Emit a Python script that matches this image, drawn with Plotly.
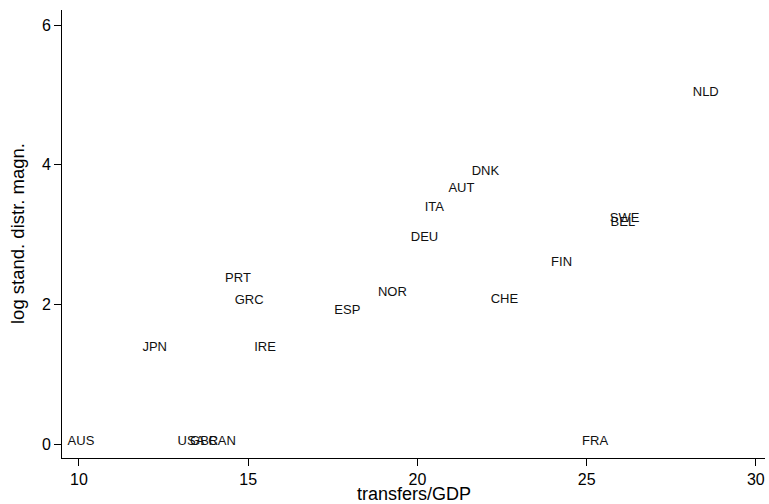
import plotly.graph_objects as go

countries = ["AUS", "USA", "GBR", "CAN", "FRA", "JPN", "IRE", "PRT", "GRC", "ESP",
             "NOR", "DEU", "ITA", "AUT", "DNK", "CHE", "FIN", "SWE", "BEL", "NLD"]
transfers_gdp = [10.06, 13.31, 13.70, 14.23, 25.25, 12.24, 15.50, 14.70, 15.03, 17.93,
                 19.26, 20.21, 20.50, 21.30, 22.01, 22.57, 24.26, 26.12, 26.07, 28.52]
log_distr = [0.03, 0.03, 0.03, 0.03, 0.03, 1.38, 1.38, 2.37, 2.05, 1.91,
             2.16, 2.96, 3.38, 3.66, 3.90, 2.07, 2.60, 3.22, 3.17, 5.03]

x_ticks = [10, 15, 20, 25, 30]
y_ticks = [0, 2, 4, 6]
x_title = "transfers/GDP"
y_title = "log stand. distr. magn."

FONT = "Liberation Sans, Arial, sans-serif"

fig = go.Figure(go.Scatter(
    x=transfers_gdp, y=log_distr, mode="text", text=countries,
    textposition="middle center",
    textfont=dict(family=FONT, size=13, color="#111111"),
    hoverinfo="skip", showlegend=False,
))

axis_common = dict(
    showgrid=False, zeroline=False, showline=True, linecolor="black", linewidth=1,
    ticks="outside", ticklen=7, tickcolor="black", tickwidth=1, automargin=False,
    tickfont=dict(family=FONT, size=16, color="black"),
)

fig.update_layout(
    width=769, height=504,
    margin=dict(l=62, r=4, t=10, b=46),
    paper_bgcolor="white", plot_bgcolor="white",
    xaxis=dict(range=[9.50, 30.27], tickvals=x_ticks, **axis_common),
    yaxis=dict(range=[-0.20, 6.215], tickvals=y_ticks, **axis_common),
    annotations=[
        dict(text=x_title, xref="paper", yref="paper", x=0.5, y=0, yshift=-36,
             xanchor="center", yanchor="middle", showarrow=False,
             font=dict(family=FONT, size=18, color="black")),
        dict(text=y_title, xref="paper", yref="paper", x=0, y=0.5, xshift=-45,
             xanchor="center", yanchor="middle", textangle=-90, showarrow=False,
             font=dict(family=FONT, size=18.5, color="black")),
    ],
)

fig.write_html("out.html", config={"displayModeBar": False},
               post_script="document.body.style.margin='0px';document.body.style.overflow='hidden';")
